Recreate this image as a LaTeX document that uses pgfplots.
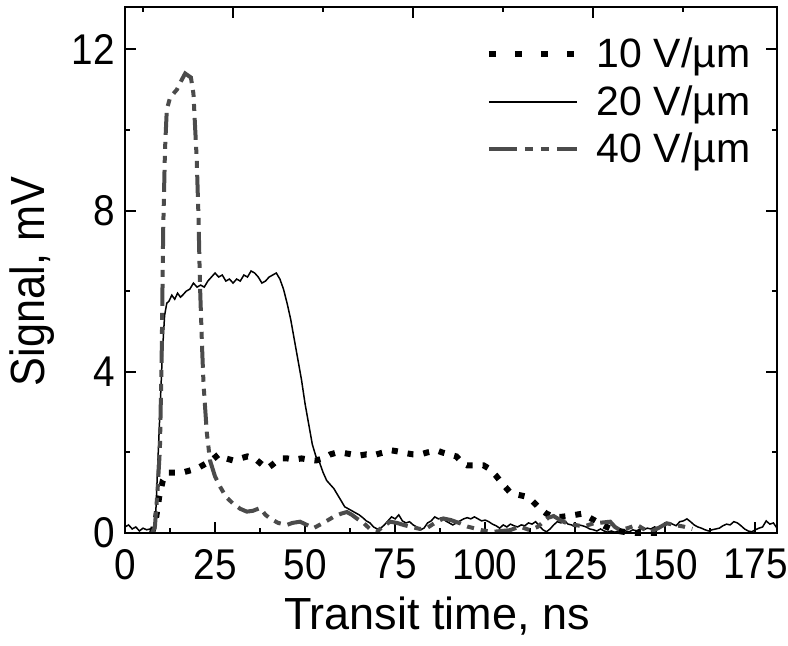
\documentclass[border=0pt]{standalone}
\usepackage{fontspec}
\setmainfont{Liberation Sans}
\newfontfamily\tickfont{Liberation Sans}[FakeStretch=0.9]
\usepackage{pgfplots}
\pgfplotsset{compat=1.18}
\definecolor{darkgrey}{RGB}{75,75,75}

\begin{document}
\begin{tikzpicture}
\begin{axis}[
    name=ax,
    scale only axis,
    width=326pt, height=263pt,
    xmin=0, xmax=181, ymin=0, ymax=13.05,
    xtick={0,25,...,175}, ytick={0,4,8,12},
    minor x tick num=1, minor y tick num=1,
    xtick pos=left,
    tick align=inside,
    major tick length=5.5pt, minor tick length=2.5pt,
    axis line style={line width=1pt},
    every tick/.style={black, line width=1pt},
    /pgf/number format/assume math mode=true,
    every tick label/.append style={font=\tickfont\fontsize{21.5}{22}\selectfont, inner sep=0pt},
    xticklabel style={yshift=-8pt},
    yticklabel style={xshift=-5pt},
    xlabel={Transit time, ns},
    ylabel={Signal, mV},
    xlabel style={font=\fontsize{22.5}{24}\selectfont, at={(axis description cs:0.4785,-0.1844)}, anchor=base},
    ylabel style={font=\tickfont\fontsize{24}{26}\selectfont, at={(axis description cs:-0.1426,0.478)}, anchor=center},
    clip=false,
    legend image code/.code={\draw[#1] (0pt,0pt) -- (44pt,0pt);},
    legend style={at={(axis description cs:0.969,0.95)}, anchor=north east,
        draw=none, fill=none, font=\fontsize{20.5}{24}\selectfont,
        nodes={inner sep=0pt}, row sep=7.5pt,
        /tikz/every odd column/.append style={column sep=8.5pt}},
    legend cell align=left,
]
% 10 V/um
\addplot[black, line width=3pt, dash pattern=on 3pt off 5pt,
    legend image post style={dash pattern=on 3.5pt off 9.5pt}] coordinates {
(7.5,0) (8.5,0.3) (9.5,0.9) (10.5,1.3) (12,1.5) (14,1.5) (16,1.5) (18,1.55)
(20,1.6) (22,1.7) (24,1.8) (26,1.95) (28,1.85) (30,1.8) (32,1.85) (34,1.9)
(36,1.85) (38,1.7) (39.5,1.6) (41,1.7) (43,1.85) (45,1.85) (47,1.82) (49,1.85)
(51,1.82) (53,1.8) (55,1.85) (57,1.95) (59,2.0) (61,1.98) (63,1.95) (65,1.92)
(67,1.95) (69,1.93) (71,1.98) (74,2.05) (76,2.02) (78,1.98) (80,1.95) (82,1.95)
(84,2.0) (86.5,2.05) (88,2.0) (90,1.95) (92,1.9) (93.5,1.75) (95,1.68) (97,1.68)
(99.5,1.68) (101,1.6) (103,1.42) (105,1.2) (107,1.0) (109,0.95) (111.5,0.9)
(113,0.8) (115,0.62) (117,0.48) (119,0.4) (121,0.4) (123,0.42) (125,0.45)
(127,0.48) (129,0.38) (131,0.28) (133,0.18) (135,0.1) (137,0.05) (139,0.02)
(142,0) (150,0)
};
\addlegendentry{10 V/µm}
% 20 V/um
\addplot[black, line width=0.75pt] coordinates {
(0,0.15) (1,0.2) (2,0.1) (3,0.15) (4,0.05) (5,0.12) (6,0.08) (7,0.1) (8,0.15)
(8.5,0.4) (9,1.5) (9.7,3.0) (10.4,4.5) (11,5.4) (11.6,5.7) (12.2,5.75) (13,5.9)
(13.8,5.8) (14.6,5.95) (15.4,5.85) (16,5.9) (17,6.0) (18,6.05) (19,6.2) (20,6.1)
(21,6.15) (22,6.1) (23,6.25) (24,6.35) (25,6.45) (26,6.35) (27,6.4) (28,6.25)
(29,6.3) (30,6.2) (31,6.3) (32,6.25) (33,6.4) (34,6.35) (35,6.5) (36,6.45)
(37,6.35) (38,6.2) (39,6.25) (40,6.35) (41,6.4) (42,6.45) (43,6.3) (44,6.05)
(45,5.7) (46,5.3) (47,4.8) (48,4.3) (49,3.8) (50,3.2) (51,2.7) (52,2.2) (53,1.9)
(54,1.75) (55,1.5) (56,1.3) (57,1.2) (58,1.1) (59,0.95) (60,0.8) (61,0.65)
(62,0.6) (63,0.55) (64,0.5) (65,0.45) (66,0.38) (67,0.3) (68,0.25) (69,0.15)
(70,0.1) (71,0.12) (72,0.2) (73,0.3) (74,0.4) (75,0.35) (76,0.45) (77,0.3)
(78,0.25) (79,0.28) (80,0.2) (81,0.15) (82,0.08) (83,0.12) (84,0.25) (85,0.3)
(86,0.4) (87,0.35) (88,0.38) (89,0.3) (90,0.25) (91,0.2) (92,0.25) (93,0.3)
(94,0.35) (95,0.38) (96,0.35) (97,0.4) (98,0.35) (99,0.3) (100,0.32) (101,0.28)
(102,0.22) (103,0.18) (104,0.12) (105,0.2) (106,0.15) (107,0.22) (108,0.18)
(109,0.15) (110,0.2) (111,0.18) (112,0.25) (113,0.22) (114,0.28) (115,0.18)
(116,0.08) (117,0.03) (118,0.1) (119,0.2) (120,0.28) (121,0.25) (122,0.3)
(123,0.22) (124,0.2) (125,0.15) (126,0.2) (127,0.18) (128,0.15) (129,0.1)
(130,0.08) (131,0.05) (132,0.1) (133,0.05) (134,0.02) (135,0.05) (136,0.02)
(137,0.05) (138,0.08) (139,0.05) (140,0.03) (141,0.08) (142,0.05) (143,0.1)
(144,0.08) (145,0.12) (146,0.1) (147,0.15) (148,0.12) (149,0.18) (150,0.2)
(151,0.25) (152,0.22) (153,0.18) (154,0.28) (155,0.3) (156,0.35) (157,0.28)
(158,0.2) (159,0.15) (160,0.12) (161,0.08) (162,0.05) (163,0.08) (164,0.1)
(165,0.12) (166,0.18) (167,0.22) (168,0.2) (169,0.28) (170,0.25) (171,0.18)
(172,0.1) (173,0.05) (174,0.03) (175,0.08) (176,0.12) (177,0.15) (178,0.3)
(179,0.22) (180,0.25) (181,0.12)
};
\addlegendentry{20 V/µm}
% 40 V/um
\addplot[darkgrey, line width=2pt,
    dash pattern=on 11pt off 3.5pt on 3.5pt off 3.5pt on 3.5pt off 3.5pt,
    legend image post style={dash pattern=on 14pt off 4pt on 4pt off 4pt on 4pt off 4pt}] coordinates {
(7.5,0) (8.3,0.15) (9,1) (9.7,2.1) (10.2,4.5) (10.6,7.5) (11.1,9.5) (11.6,10.5)
(12.5,10.8) (14.4,11.0) (15.5,11.2) (16.7,11.4) (18.3,11.3) (19,10.9) (19.5,10.0)
(19.9,9.3) (20.4,7.85) (20.8,6.2) (21.4,4.6) (21.8,3.7) (22.7,2.5) (23.6,1.8)
(25,1.4) (26.4,1.15) (28,0.9) (30.1,0.72) (32,0.6) (33.8,0.53) (35.5,0.55)
(37.5,0.62) (39,0.45) (40.3,0.36) (42.5,0.25) (44.9,0.2) (46.5,0.25) (48.6,0.28)
(50.5,0.2) (52.3,0.12) (54,0.2) (56,0.3) (57.9,0.4) (60,0.48) (61.6,0.52)
(63,0.45) (64.5,0.35) (66.2,0.25) (68,0.1) (69.9,0.03) (71.5,0.15) (73.6,0.28)
(75.5,0.25) (77.3,0.2) (79.5,0.15) (81.9,0.1) (83.8,0.12) (86,0.25) (88.4,0.36)
(90.5,0.32) (93,0.24) (95,0.16) (96.8,0.12) (99.5,0.06) (102.3,0.03) (104.5,0.05)
(106.9,0.07) (109.6,0.16) (112.4,0.07) (114.5,0.15) (116.2,0.28) (117.5,0.38)
(119,0.42) (120.8,0.32) (122.7,0.24) (125,0.2) (127.3,0.16) (130.1,0.24)
(132.5,0.26) (134.7,0.28) (136,0.15) (137.5,0.07) (139.5,0.12) (142.1,0.2)
(144,0.1) (145.8,0.03) (148,0.12) (150.4,0.24) (152.5,0.2) (155,0.16) (157.5,0.1)
};
\addlegendentry{40 V/µm}
\end{axis}
% top axis carries its own, shifted ticks
\begin{axis}[
    scale only axis,
    width=326pt, height=263pt,
    xmin=0, xmax=181, ymin=0, ymax=13.05,
    xtick={30,80,130}, minor xtick={5,55,105,155},
    xtick pos=right, ytick=\empty,
    xticklabels={},
    tick align=inside,
    major tick length=5.5pt, minor tick length=2.5pt,
    axis line style={line width=1pt},
    every tick/.style={black, line width=1pt},
]
\end{axis}
\pgfresetboundingbox
\path ([shift={(-62.5pt,-56.5pt)}]ax.south west) rectangle ([shift={(5.5pt,3.5pt)}]ax.north east);
\end{tikzpicture}
\end{document}
